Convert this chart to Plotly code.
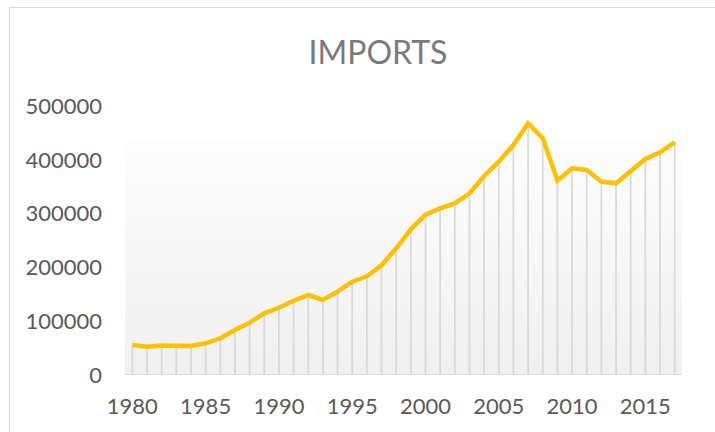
import plotly.graph_objects as go

years = list(range(1980, 2018))
imports = [55800, 52600, 55000, 55000, 54000, 58900, 68200, 83600, 97300, 114700,
           125000, 138000, 148700, 139400, 154900, 173400, 183500, 204000, 235500, 270800,
           298000, 309800, 319000, 337700, 369900, 396500, 427500, 467800, 440000, 361200,
           384200, 381000, 359300, 356300, 379800, 401500, 413900, 432500]
y_ticks = [0, 100000, 200000, 300000, 400000, 500000]
x_ticks = [1980, 1985, 1990, 1995, 2000, 2005, 2010, 2015]
title_text = "IMPORTS"

FONT = "Lato"
GREY_TXT = "#595959"

# drop lines built from the data
drop_x, drop_y = [], []
for x, y in zip(years, imports):
    drop_x += [x, x, None]
    drop_y += [0, y, None]

x0, x1 = years[0] - 0.5, years[-1] + 0.5

fig = go.Figure()
# gradient background panel
fig.add_trace(go.Scatter(
    x=[x0, x1], y=[433000, 433000], mode="lines", line=dict(width=0),
    fill="tozeroy",
    fillgradient=dict(type="vertical",
                      colorscale=[[0, "#f0f0f0"], [1, "#fdfdfd"]]),
    hoverinfo="skip", showlegend=False))
fig.add_trace(go.Scatter(
    x=drop_x, y=drop_y, mode="lines",
    line=dict(color="#d9d9d9", width=1.8),
    hoverinfo="skip", showlegend=False))
fig.add_trace(go.Scatter(
    x=years, y=imports, mode="lines",
    line=dict(color="#FFC000", width=4.5),
    showlegend=False))

fig.update_layout(
    width=715, height=432,
    margin=dict(l=125, r=33, t=106, b=57),
    paper_bgcolor="white", plot_bgcolor="white",
    title=dict(text=title_text, x=(378) / 715, xanchor="center",
               y=1 - 53 / 432, yanchor="middle",
               font=dict(family=FONT, size=32, color="#7a7a7a")),
    xaxis=dict(range=[x0, x1], tickmode="array", tickvals=x_ticks,
               showgrid=False, zeroline=False, showline=False,
               ticks="", ticklabelstandoff=16, automargin=False,
               tickfont=dict(family=FONT, size=22, color=GREY_TXT)),
    yaxis=dict(range=[0, 500000], tickmode="array", tickvals=y_ticks,
               tickformat="d", showgrid=False, zeroline=False, showline=False,
               ticks="", ticklabelstandoff=22, automargin=False,
               tickfont=dict(family=FONT, size=22, color=GREY_TXT)),
    shapes=[
        dict(type="line", xref="x", yref="y", x0=x0, x1=x1, y0=0, y1=0,
             line=dict(color="#d9d9d9", width=1.5)),
        dict(type="line", xref="paper", yref="paper",
             x0=(9 - 125) / 557, x1=(725 - 125) / 557,
             y0=(375 - 7.5) / 269, y1=(375 - 7.5) / 269,
             line=dict(color="#d9d9d9", width=1)),
        dict(type="line", xref="paper", yref="paper",
             x0=(9.5 - 125) / 557, x1=(9.5 - 125) / 557,
             y0=(375 - 7) / 269, y1=(375 - 450) / 269,
             line=dict(color="#d9d9d9", width=1)),
    ],
)

fig.write_html(
    "out.html",
    config={"displayModeBar": False},
    post_script="document.body.style.margin='0';document.body.style.overflow='hidden';",
)
